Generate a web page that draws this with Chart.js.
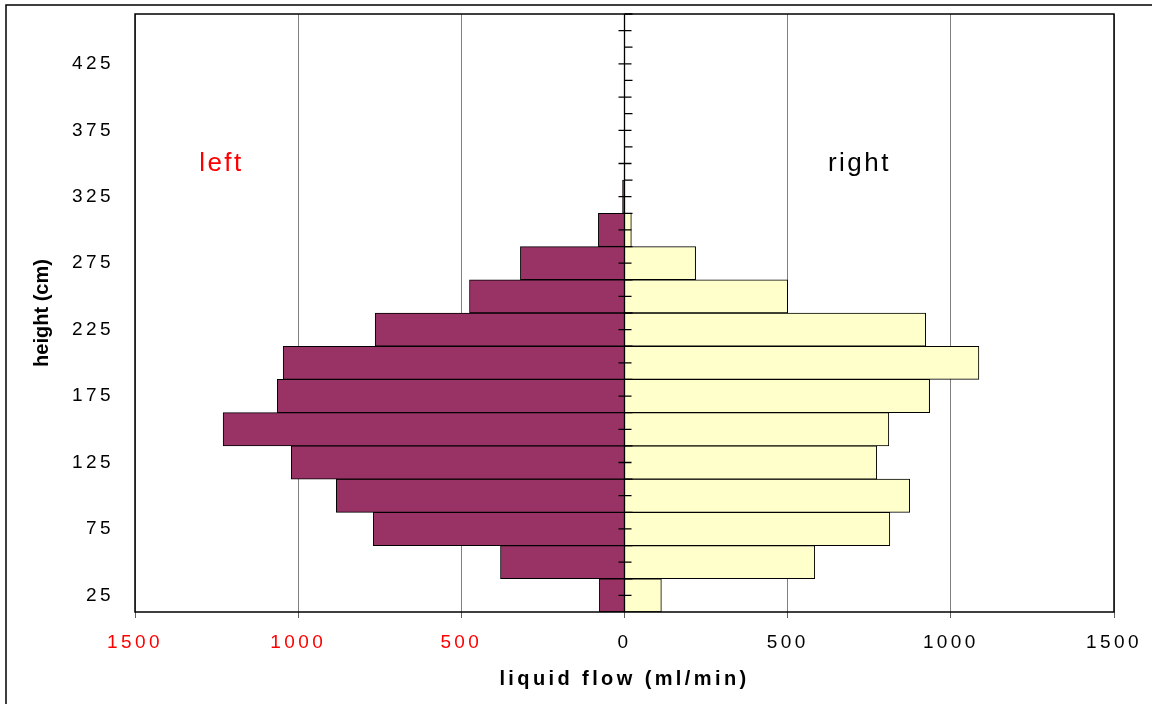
<!DOCTYPE html>
<html>
<head>
<meta charset="utf-8">
<script src="https://cdn.jsdelivr.net/npm/chart.js@4.4.1/dist/chart.umd.min.js"></script>
<style>
  html, body { margin: 0; padding: 0; background: #fff; }
  #wrap { width: 1152px; height: 704px; position: relative; }
</style>
</head>
<body>
<div id="wrap"><canvas id="graphique" width="1152" height="704"></canvas></div>
<script>

// hauteurs (cm), du bas vers le haut
const heights = [25, 50, 75, 100, 125, 150, 175, 200, 225, 250, 275, 300, 325, 350, 375, 400, 425, 450];
// débit côté gauche (négatif pour aller vers la gauche)
const leftFlow = [-77, -380, -770, -883, -1021, -1230, -1064, -1046, -764, -475, -319, -80, -6, 0, 0, 0, 0, 0];
// débit côté droit
const rightFlow = [113, 583, 813, 874, 773, 810, 935, 1086, 923, 500, 218, 21, 0, 0, 0, 0, 0, 0];
const xTicks = [-1500, -1000, -500, 0, 500, 1000, 1500];

// cadre, axe central, textes
const decor = {
  id: 'decor',
  beforeDraw(chart) {
    const ctx = chart.ctx;
    ctx.letterSpacing = '3.4px';
    ctx.save();
    ctx.strokeStyle = '#000';
    ctx.lineWidth = 1.5;
    ctx.beginPath();
    ctx.moveTo(1152, 5); ctx.lineTo(6, 5); ctx.lineTo(6, 704);
    ctx.stroke();
    ctx.restore();
  },
  afterDatasetsDraw(chart) {
    const {ctx, chartArea: a, scales: {x, y}} = chart;
    const x0 = x.getPixelForValue(0);
    const band = Math.abs(y.getPixelForTick(1) - y.getPixelForTick(0));
    ctx.save();
    ctx.strokeStyle = '#000';
    ctx.lineWidth = 1.3;
    ctx.beginPath();
    ctx.moveTo(x0, a.top); ctx.lineTo(x0, a.bottom);
    for (let i = 0; i < heights.length; i++) {
      const py = y.getPixelForTick(i);
      ctx.moveTo(x0 - 6, py); ctx.lineTo(x0 + 7, py);
      ctx.moveTo(x0, py - band / 2); ctx.lineTo(x0 + 8, py - band / 2);
    }
    ctx.stroke();
    ctx.lineWidth = 1.5;
    ctx.strokeRect(a.left, a.top, a.width, a.height);
    ctx.restore();
  },
  afterDraw(chart) {
    const {ctx, scales: {x, y}} = chart;
    ctx.save();
    const yl = y.getPixelForValue(heights.indexOf(350));
    ctx.letterSpacing = '2.5px';
    ctx.font = '26px "Liberation Sans", Arial, sans-serif';
    ctx.textAlign = 'center';
    ctx.textBaseline = 'middle';
    ctx.fillStyle = '#ff0000';
    ctx.fillText('left', x.getPixelForValue(-1235), yl);
    ctx.fillStyle = '#000';
    ctx.fillText('right', x.getPixelForValue(720), yl);
    // titre de l'axe vertical
    ctx.letterSpacing = '0px';
    ctx.font = 'bold 20px "Liberation Sans", Arial, sans-serif';
    ctx.translate(42, (chart.chartArea.top + chart.chartArea.bottom) / 2);
    ctx.rotate(-Math.PI / 2);
    ctx.fillText('height (cm)', 0, 0);
    ctx.restore();
  }
};

const ctx = document.getElementById('graphique').getContext('2d');

new Chart(ctx, {
  type: 'bar',
  data: {
    labels: heights,
    datasets: [{
      label: 'left',
      data: leftFlow,
      backgroundColor: '#993366',
      borderColor: '#000',
      borderWidth: 1
    }, {
      label: 'right',
      data: rightFlow,
      backgroundColor: '#ffffcc',
      borderColor: '#000',
      borderWidth: 1
    }]
  },
  options: {
    indexAxis: 'y',
    responsive: false,
    animation: false,
    barPercentage: 1,
    categoryPercentage: 1,
    layout: { padding: { top: 14, right: 38, left: 0, bottom: 0 } },
    plugins: { legend: { display: false }, tooltip: { enabled: false } },
    scales: {
      x: {
        stacked: true,
        min: -1500,
        max: 1500,
        afterBuildTicks: (s) => { s.ticks = xTicks.map(v => ({ value: v })); },
        afterFit: (s) => { s.height = 92; },
        grid: {
          color: (c) => c.tick && c.tick.value === 0 ? '#000' : '#808080',
          tickColor: '#606060',
          tickLength: 6,
          lineWidth: 1
        },
        border: { display: false },
        ticks: {
          padding: 13,
          color: (c) => c.tick.value < 0 ? '#ff0000' : '#000',
          font: { family: '"Liberation Sans", Arial, sans-serif', size: 19 },
          callback: (v) => Math.abs(v)
        },
        title: {
          display: true,
          text: 'liquid flow (ml/min)',
          color: '#000',
          font: { family: '"Liberation Sans", Arial, sans-serif', size: 20, weight: 'bold' },
          padding: { top: 0, bottom: 13 }
        }
      },
      y: {
        stacked: true,
        reverse: true,
        afterFit: (s) => { s.width = 135; s.paddingTop = 0; s.paddingBottom = 0; },
        grid: { display: false, drawTicks: false },
        border: { display: false },
        ticks: {
          autoSkip: false,
          padding: 21,
          color: '#000',
          font: { family: '"Liberation Sans", Arial, sans-serif', size: 19 },
          callback: (v, i) => i % 2 === 0 ? heights[i] : ''
        }
      }
    }
  },
  plugins: [decor]
});

</script>
</body>
</html>
